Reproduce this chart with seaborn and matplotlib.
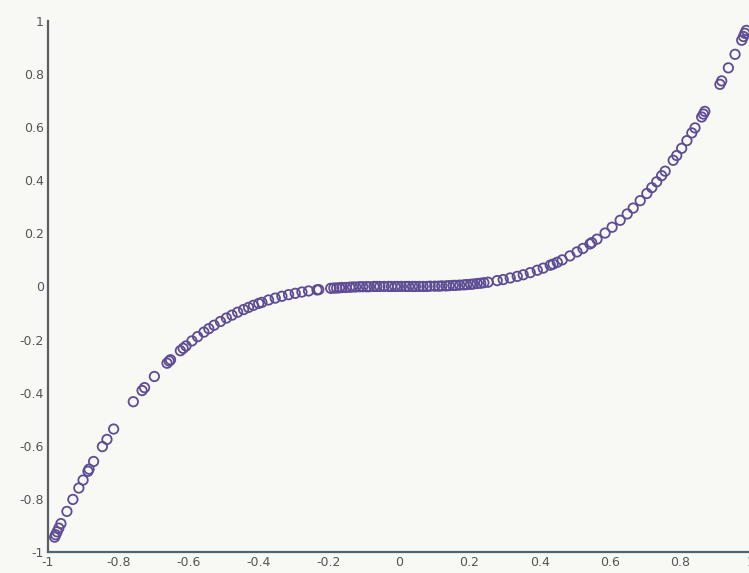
import matplotlib
matplotlib.use("Agg")
import matplotlib.pyplot as plt
import seaborn as sns
import pandas as pd

# Sample points of the cubic response
x_vals = [
    -0.981, -0.978, -0.974, -0.969, -0.963, -0.946, -0.929, -0.912, -0.900, -0.886,
    -0.883, -0.870, -0.845, -0.832, -0.813, -0.757, -0.732, -0.725, -0.697, -0.661,
    -0.655, -0.651, -0.623, -0.615, -0.607, -0.590, -0.574, -0.556, -0.542, -0.527,
    -0.509, -0.492, -0.476, -0.460, -0.443, -0.429, -0.415, -0.400, -0.391, -0.372,
    -0.353, -0.334, -0.315, -0.296, -0.277, -0.258, -0.234, -0.229,
    -0.195, -0.186, -0.178, -0.170, -0.163, -0.152, -0.141, -0.133, -0.124, -0.113,
    -0.104, -0.093, -0.085, -0.072, -0.064, -0.055, -0.043, -0.031, -0.022, -0.012,
    -0.004, 0.006, 0.018, 0.027, 0.038, 0.046, 0.057, 0.068, 0.079, 0.088,
    0.101, 0.112, 0.121, 0.133, 0.142, 0.153, 0.161, 0.172, 0.184, 0.192,
    0.203, 0.211, 0.222, 0.232, 0.241,
    0.253, 0.279, 0.296, 0.316, 0.336, 0.353, 0.373, 0.393, 0.410, 0.430,
    0.438, 0.450, 0.464, 0.486, 0.506, 0.523, 0.543, 0.548, 0.563, 0.586,
    0.606, 0.629, 0.649, 0.666, 0.686, 0.705, 0.719, 0.733, 0.747, 0.757,
    0.780, 0.790, 0.804, 0.819, 0.833, 0.842, 0.861, 0.866, 0.870, 0.913,
    0.918, 0.937, 0.956, 0.975, 0.980, 0.984, 0.988,
]
y_vals = [
    -0.944, -0.935, -0.924, -0.910, -0.893, -0.847, -0.802, -0.759, -0.729, -0.696,
    -0.688, -0.659, -0.603, -0.576, -0.537, -0.434, -0.392, -0.381, -0.339, -0.289,
    -0.281, -0.276, -0.242, -0.233, -0.224, -0.205, -0.189, -0.172, -0.159, -0.146,
    -0.132, -0.119, -0.108, -0.097, -0.087, -0.079, -0.071, -0.064, -0.060, -0.051,
    -0.044, -0.037, -0.031, -0.026, -0.021, -0.017, -0.013, -0.012,
    -0.007, -0.006, -0.006, -0.005, -0.004, -0.004, -0.003, -0.002, -0.002, -0.001,
    -0.001, -0.001, -0.001, 0.000, 0.000, 0.000, 0.000, 0.000, 0.000, 0.000,
    0.000, 0.000, 0.000, 0.000, 0.000, 0.000, 0.000, 0.000, 0.000, 0.001,
    0.001, 0.001, 0.002, 0.002, 0.003, 0.004, 0.004, 0.005, 0.006, 0.007,
    0.008, 0.009, 0.011, 0.012, 0.014,
    0.016, 0.022, 0.026, 0.032, 0.038, 0.044, 0.052, 0.061, 0.069, 0.080,
    0.084, 0.091, 0.100, 0.115, 0.130, 0.143, 0.160, 0.165, 0.178, 0.201,
    0.223, 0.249, 0.273, 0.295, 0.323, 0.350, 0.372, 0.394, 0.417, 0.434,
    0.475, 0.493, 0.520, 0.549, 0.578, 0.597, 0.638, 0.649, 0.659, 0.761,
    0.774, 0.823, 0.874, 0.927, 0.941, 0.953, 0.964,
]
x_ticks = [-1, -0.8, -0.6, -0.4, -0.2, 0, 0.2, 0.4, 0.6, 0.8, 1]
x_tick_labels = ["-1", "-0.8", "-0.6", "-0.4", "-0.2", "0", "0.2", "0.4", "0.6", "0.8", "1"]
y_ticks = [-1, -0.8, -0.6, -0.4, -0.2, 0, 0.2, 0.4, 0.6, 0.8, 1]
y_tick_labels = ["-1", "-0.8", "-0.6", "-0.4", "-0.2", "0", "0.2", "0.4", "0.6", "0.8", "1"]

df = pd.DataFrame({"x": x_vals, "y": y_vals})

sns.set_style("white")
bg = "#f8f8f4"
fig = plt.figure(figsize=(7.49, 5.73), dpi=100, facecolor=bg)
ax = fig.add_axes([0.064, 0.0366, 0.938, 0.927])
ax.set_facecolor(bg)

sns.scatterplot(data=df, x="x", y="y", ax=ax, marker="o", s=46,
                facecolors="none", edgecolor="#5e4d94", linewidth=1.3, legend=False)

ax.set_xlim(-1, 1)
ax.set_ylim(-1, 1)
ax.set_xticks(x_ticks)
ax.set_xticklabels(x_tick_labels)
ax.set_yticks(y_ticks)
ax.set_yticklabels(y_tick_labels)
ax.set_xlabel("")
ax.set_ylabel("")

for side in ("top", "right"):
    ax.spines[side].set_visible(False)
ax.spines["left"].set_color("#5a5f63")
ax.spines["bottom"].set_color("#4d6670")
ax.spines["left"].set_linewidth(1.6)
ax.spines["bottom"].set_linewidth(1.6)
ax.tick_params(direction="in", length=5, width=1.2, color="#4f5a60",
               labelsize=9, labelcolor="#555555", pad=3)

fig.savefig("out.png", dpi=100, facecolor=bg)
